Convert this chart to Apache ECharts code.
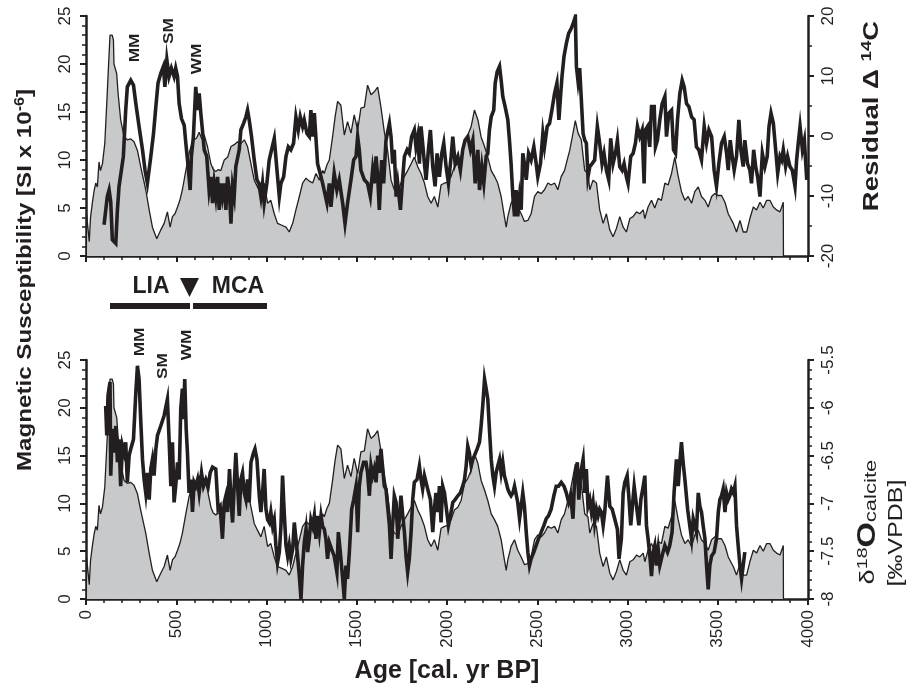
<!DOCTYPE html>
<html>
<head>
<meta charset="utf-8">
<script src="https://cdn.jsdelivr.net/npm/echarts@6.0.0/dist/echarts.min.js"></script>
<style>
	html, body { margin: 0; padding: 0; background: #fff; }
	#main { width: 907px; height: 693px; }
</style>
</head>
<body>
<div id="main"></div>
<script>
// magnetic susceptibility (grey area, same in both panels)
var msAge = [2, 3, 12, 18, 25, 35, 45, 54, 63, 72, 80, 91, 104, 115, 124, 133, 145, 152, 155, 165, 170, 178, 192, 211, 229, 248, 266, 285, 303, 331, 350, 368, 380, 392, 414, 433, 451, 466, 479, 493, 507, 520, 534, 553, 571, 585, 599, 613, 627, 641, 655, 673, 692, 705, 719, 733, 747, 766, 785, 803, 821, 840, 858, 877, 895, 914, 932, 950, 969, 987, 1006, 1024, 1043, 1061, 1085, 1108, 1126, 1145, 1163, 1182, 1200, 1219, 1237, 1256, 1274, 1293, 1311,
	1320, 1335, 1348, 1366, 1380, 1394, 1412, 1431, 1449, 1468, 1486, 1505, 1523, 1542, 1560, 1579, 1597, 1616, 1634, 1653, 1671, 1690, 1708, 1727, 1745, 1764, 1782, 1801, 1819, 1838, 1856, 1875, 1893, 1912, 1930, 1949, 1967, 1986, 2004, 2023, 2041, 2060, 2078, 2097, 2115, 2134, 2152, 2171, 2189, 2208, 2226, 2245, 2263, 2281, 2300, 2318, 2328, 2337, 2355, 2374, 2392, 2411, 2429, 2448, 2466, 2485, 2503, 2522, 2540, 2559, 2577, 2596, 2614, 2633, 2651, 2670,
	2680, 2695, 2711, 2726, 2744, 2763, 2781, 2791, 2809, 2828, 2846, 2865, 2883, 2902, 2920, 2939, 2957, 2976, 2994, 3013, 3031, 3050, 3068, 3087, 3096, 3114, 3133, 3151, 3170, 3188, 3207, 3225, 3244, 3262, 3281, 3299, 3318, 3336, 3355, 3373, 3392, 3410, 3429, 3447, 3466, 3484, 3503, 3521, 3540, 3558, 3586, 3604, 3623, 3641, 3660, 3678, 3697, 3715, 3734, 3752, 3771, 3789, 3808, 3826, 3845, 3863, 3864];
var msVal = [0, 4.4, 4.3, 1.5, 4, 5.5, 6.8, 7.6, 7.2, 9.8, 8.9, 9.6, 11.7, 15.9, 19.5, 23, 23, 22.5, 20, 20, 19, 16.9, 14.2, 12.4, 12.1, 12.2, 11.9, 11, 9.3, 6.9, 4.8, 3.0, 2.4, 1.8, 2.7, 3.4, 4.6, 3.0, 4.1, 4.4, 5.1, 5.8, 6.9, 8.9, 10.7, 11.6, 12.1, 12.3, 12.9, 12.2, 12.6, 11.4, 9.6, 9, 8.8, 9, 8.9, 10, 10.3, 11.4, 11.6, 11.9, 11.7, 12.1, 11.4, 9.6, 7.9, 7.2, 6.5, 7.6, 5.5, 5.8, 4.4, 3.4, 3.2, 3.0, 2.5, 3.4, 4.8, 6.2, 7.6, 8.1, 7.8, 7.6, 8.6, 7.9, 8.9,
	8.6, 9.5, 10, 12.4, 14.5, 16.1, 15.7, 12.6, 14, 12.8, 14.7, 13.1, 15.4, 15.5, 17.8, 16.8, 17.1, 17.6, 15.5, 12.9, 11, 7.9, 6.9, 6.7, 7.6, 8.3, 8.9, 9.6, 10.3, 9.3, 8.6, 7.6, 6.2, 5.5, 6.2, 5.1, 7.4, 7.6, 7.7, 8.3, 9.3, 9.6, 10.3, 12.1, 12.6, 13.5, 15.2, 14.2, 12.4, 11.4, 10.3, 8.9, 8.3, 7.6, 6.2, 4.1, 3.0, 4.1, 5.5, 6.2, 5.1, 4.4, 3.6, 3.7, 4.4, 6.2, 6.7, 6.5, 6.9, 7.6, 7.4, 7.6, 6.9, 8.3, 8.9, 10.3,
	11, 12.5, 14.1, 12.8, 12.1, 8.9, 8.6, 6.9, 7.9, 7.6, 4.8, 3.4, 4.4, 2.7, 2.0, 2.9, 4.1, 3.0, 2.5, 3.9, 4.1, 4.6, 4.4, 4.8, 3.9, 5.1, 5.8, 5.0, 6.0, 5.8, 7.6, 7.4, 8.6, 10.3, 8.3, 6.7, 5.8, 6.2, 5.5, 6.7, 7.2, 6.2, 5.8, 5.1, 6.2, 6.5, 6.3, 6.3, 5.6, 4.4, 3.4, 2.5, 3.7, 2.5, 2.5, 3.9, 5.1, 4.8, 5.6, 5.0, 5.8, 5.8, 5.1, 4.8, 4.6, 5.6, 0];

// residual delta 14C (top panel, right axis)
var c14Age = [100, 118, 128, 137, 146, 165, 174, 183, 196, 207, 220, 229, 248, 263, 276, 294, 313, 327, 340, 350, 359, 374, 387, 399, 414, 429, 437, 448, 460, 473, 488, 497, 507, 516, 529, 544, 553, 566, 577, 584, 595, 608, 618, 627, 636, 645, 655, 669, 682, 692, 701, 710, 719, 729, 738, 747, 756, 766, 775, 784, 794, 803, 812, 821, 830, 849, 858, 873, 886, 895, 904, 917, 932, 947, 958, 969, 978, 987, 1002, 1015, 1028, 1043, 1058, 1071, 1080, 1095, 1108, 1121, 1135, 1150, 1163, 1176, 1187, 1200, 1209, 1224, 1237, 1246, 1256, 1265, 1283, 1302, 1311,
	1320, 1335, 1348, 1357, 1375, 1390, 1403, 1422, 1435, 1449, 1468, 1483, 1496, 1505, 1514, 1523, 1542, 1560, 1575, 1588, 1597, 1607, 1616, 1625, 1638, 1649, 1662, 1681, 1690, 1699, 1708, 1718, 1727, 1742, 1755, 1764, 1779, 1791, 1804, 1819, 1828, 1838, 1847, 1856, 1865, 1875, 1884, 1897, 1908, 1921, 1934, 1945, 1958, 1971, 1982, 1995, 2008, 2023, 2032, 2045, 2060, 2074, 2087, 2100, 2115, 2130, 2143, 2156, 2171, 2180, 2193, 2204, 2217, 2226, 2235, 2245, 2259, 2267, 2278, 2291, 2300, 2309, 2322, 2337, 2346, 2355, 2365, 2374, 2383, 2392, 2402, 2411, 2420, 2429, 2439, 2452, 2466, 2481, 2494, 2503, 2518, 2531, 2540, 2555, 2568, 2581, 2596, 2609, 2620, 2629, 2637, 2648, 2661, 2674, 2688, 2703,
	2711, 2717, 2726, 2735, 2744, 2754, 2763, 2772, 2781, 2791, 2804, 2818, 2833, 2846, 2859, 2870, 2883, 2896, 2907, 2920, 2933, 2944, 2957, 2970, 2981, 2994, 3003, 3018, 3031, 3044, 3055, 3068, 3081, 3092, 3099, 3111, 3123, 3133, 3148, 3155, 3166, 3179, 3192, 3207, 3216, 3229, 3244, 3255, 3266, 3277, 3290, 3303, 3314, 3327, 3340, 3355, 3369, 3382, 3395, 3410, 3425, 3438, 3451, 3466, 3480, 3493, 3506, 3521, 3536, 3549, 3558, 3569, 3580, 3591, 3604, 3617, 3628, 3641, 3650, 3665, 3678, 3687, 3699, 3710, 3721, 3734, 3747, 3761, 3774, 3784, 3795, 3808, 3821, 3832, 3845, 3854, 3863, 3876, 3887, 3900, 3913, 3928, 3937, 3946, 3956, 3969, 3980, 3993];
var c14Val = [-14.8, -10.1, -9, -11, -17.3, -17.9, -12.3, -8.4, -5.7, -3.4, 4.3, 8.2, 9.3, 8.5, 5.4, 1.6, -2.3, -5.7, -7.9, -7.9, -3.4, 0.4, 4.9, 8.8, 10.4, 11.6, 8.2, 12.7, 9.9, 11.3, 9.9, 11.3, 9.9, 5.4, 2.9, 1.8, -1.2, -5.1, -9, -3.4, -0.1, 8.2, 4.3, 7.1, 3.8, 1, -2.3, -3.4, -9, -6.8, -11.2, -7.9, -10.1, -6.8, -12.3, -7.9, -10.1, -7.9, -12.3, -6.8, -9, -14.6, -8.4, -10.1, -5.1, -2.3, 1, 2.1, 3.2, 4.3, 2.7, -0.1, -4, -7.3, -7.9, -10.1, -7.9, -11.2, -7.9, -4, -2.3, -0.4, -5.7, -10.1, -7.9, -6.8, -3.4, -1.8, -2.3, -1.2, 3.2, 1, 3.2, 1.6, 2.7, 0.4, -0.1, 4.3, -0.1, 3.8, -4.6, -6.8, -7.9,
	-7.9, -11.2, -7.9, -11.8, -6.2, -9, -7.3, -11.2, -14.6, -11.2, -7.3, -4, -3.4, -0.1, -2.3, -5.7, -7.3, -7.9, -10.1, -5.7, -7.9, -3.4, -6.8, -12.3, -4, -7.9, -0.7, 2.1, -0.1, -4.6, -2.3, -10.1, -7.9, -12.3, -6.8, -3.4, -2.3, -2.9, -0.1, 1, -1.8, -0.1, -4.6, 1.6, -1.2, -4.6, -7.3, -2.3, 1, -5.1, -8.4, -2.9, -6.8, -2.9, -1.2, -5.1, -7.9, -3.4, -0.1, -4.6, -3.4, -5.7, -2.3, -0.7, -0.1, -2.3, -0.7, -7.9, -2.3, -9, -5.1, -7.9, -3.4, -2.9, 1, 3.2, 4.3, 8.8, 10.7, 11.6, 9.3, 6.6, 4.9, 2.7, -0.7, -4.6, -10.1, -13.4, -9, -13.4, -10.1, -12.3, -2.9, -4.6, -7.3, -2.9, -4, -1.8, -4.6, -6.8, -4.6, 0.4, -1.8, 1.6, 2.1, 4.3, 7.1, 8.8, 2.7, 6.6, 9.9, 13.2, 15.4, 17.1, 17.9, 19.1,
	19.9, 11.6, 9.1, 11.3, 11, 0.4, -0.7, -1.2, -6.8, -5.1, -4.6, -4, 1.6, -1.2, -4.6, -2.9, -5.7, -7.3, -0.4, -4.6, -2.9, -0.7, -5.1, -5.7, -4.6, -6.8, -7.9, -3.4, -2.9, -1.2, 1.6, -0.1, 1, -7.9, 1, 1.6, -1.8, 4.9, 4.9, -1.8, -0.7, 2.7, 5.4, 6.6, -0.1, 3.8, 4.3, -2.3, -2.9, 2.7, 7.1, 9.3, 8.2, 5.4, 4.9, 3.2, 2.7, -1.8, -2.3, -4, 1.6, -1.2, 1, -0.1, -5.7, -8.4, -4.6, -1.2, -0.1, -2.9, -5.7, -0.7, -3.4, -5.7, -3.4, 2.7, -2.3, -5.1, -0.7, -4.6, -5.7, -7.9, -2.3, -5.1, -6.8, -10.1, -2.9, -5.1, -3.4, 1.6, 3.8, 2.1, -2.3, -6.2, -3.4, -4, -2.3, -5.1, -3.4, -5.1, -5.7, -8.4, -4, -1.2, 1.6, -2.3, -0.7, -7.3];

// delta 18O calcite (bottom panel, right axis)
var o18Age = [109, 115, 122, 133, 137, 146, 155, 165, 174, 183, 192, 202, 211, 220, 229, 239, 248, 263, 276, 285, 294, 303, 313, 322, 331, 340, 350, 359, 368, 377, 387, 396, 414, 433, 451, 461, 470, 479, 488, 497, 507, 516, 525, 534, 540, 547, 555, 562, 571, 581, 590, 599, 608, 618, 627, 640, 651, 664, 677, 688, 701, 719, 732, 743, 756, 766, 775, 784, 795, 803, 812, 821, 830, 840, 849, 858, 867, 877, 886, 895, 904, 914, 928, 936, 947, 960, 969, 978, 987, 997, 1006, 1015, 1024, 1034, 1043, 1052, 1061, 1071, 1080, 1089, 1098, 1108, 1117, 1126, 1135, 1145, 1154, 1163, 1172, 1182, 1191, 1200, 1209, 1219, 1228, 1237, 1246, 1256, 1265, 1274, 1283, 1293, 1302, 1311,
	1320, 1329, 1338, 1348, 1361, 1375, 1390, 1398, 1409, 1422, 1431, 1440, 1449, 1459, 1472, 1483, 1496, 1505, 1514, 1523, 1538, 1551, 1560, 1570, 1579, 1588, 1597, 1607, 1616, 1625, 1634, 1644, 1653, 1662, 1671, 1681, 1690, 1699, 1708, 1718, 1727, 1736, 1745, 1755, 1764, 1773, 1782, 1791, 1801, 1810, 1819, 1834, 1847, 1856, 1865, 1875, 1884, 1893, 1908, 1921, 1930, 1939, 1949, 1958, 1967, 1976, 1986, 1995, 2008, 2019, 2032, 2045, 2060, 2074, 2087, 2097, 2106, 2115, 2124, 2134, 2143, 2152, 2167, 2180, 2189, 2198, 2208, 2217, 2226, 2235, 2245, 2254, 2263, 2272, 2281, 2291, 2300, 2309, 2318, 2328, 2337, 2346, 2355, 2365, 2374, 2383, 2392, 2402, 2411, 2420, 2429, 2439, 2448, 2457, 2466, 2481, 2494, 2507, 2522, 2537, 2550, 2562, 2577, 2592, 2605, 2618, 2633, 2648, 2661, 2674, 2685, 2698,
	2707, 2722, 2730, 2741, 2754, 2763, 2772, 2781, 2791, 2800, 2809, 2818, 2828, 2837, 2846, 2855, 2865, 2874, 2889, 2902, 2915, 2929, 2944, 2953, 2966, 2976, 2985, 2998, 3007, 3018, 3027, 3037, 3050, 3063, 3074, 3087, 3096, 3105, 3114, 3124, 3133, 3142, 3151, 3160, 3170, 3179, 3188, 3197, 3207, 3222, 3234, 3247, 3258, 3271, 3281, 3290, 3299, 3308, 3318, 3333, 3345, 3355, 3364, 3373, 3382, 3392, 3401, 3410, 3419, 3429, 3438, 3447, 3456, 3466, 3480, 3493, 3503, 3512, 3521, 3530, 3540, 3549, 3558, 3567, 3576, 3586, 3595, 3604, 3613, 3623, 3632, 3641, 3650];
var o18Val = [-5.98, -6.29, -5.87, -5.73, -6.71, -6.22, -6.47, -6.19, -6.57, -6.33, -6.82, -6.4, -6.47, -6.36, -6.78, -6.5, -6.43, -6.33, -5.84, -5.56, -5.7, -6.12, -6.54, -6.75, -6.89, -6.68, -6.96, -6.64, -6.54, -6.71, -6.43, -6.29, -6.19, -6.08, -5.91, -6.36, -6.82, -6.36, -6.99, -6.82, -6.57, -6.75, -6.01, -5.8, -6.12, -5.7, -6.22, -6.47, -6.89, -6.75, -7.09, -6.78, -6.82, -6.75, -6.89, -6.68, -6.82, -6.75, -6.82, -6.68, -6.62, -6.64, -7.06, -7.03, -7.37, -6.99, -6.92, -7.09, -6.64, -6.96, -7.2, -6.82, -6.47, -6.82, -7.13, -6.75, -6.68, -6.89, -6.96, -6.75, -6.99, -6.57, -6.47, -6.43, -6.54, -6.92, -7.09, -6.89, -6.64, -7.06, -7.17, -7.2, -7.09, -7.24, -7.17, -7.44, -7.62, -7.51, -7.24, -6.71, -7.09, -7.44, -7.55, -7.44, -7.58, -7.48, -7.2, -7.37, -7.55, -7.76, -8.0, -7.65, -7.41, -7.27, -7.51, -7.37, -7.17, -7.24, -7.13, -7.37, -7.13, -7.3, -7.13, -7.24,
	-7.27, -7.37, -7.58, -7.41, -7.48, -7.55, -7.72, -7.3, -7.51, -7.79, -8.0, -7.65, -7.79, -7.51, -7.06, -6.96, -6.82, -7.3, -6.82, -6.68, -6.57, -6.57, -6.68, -6.92, -6.61, -6.71, -6.64, -6.78, -6.5, -6.68, -6.43, -6.43, -6.82, -6.85, -6.85, -7.23, -7.58, -7.23, -6.92, -6.99, -7.37, -7.16, -6.92, -7.13, -7.3, -7.55, -7.72, -7.58, -7.3, -6.96, -6.78, -6.75, -6.61, -6.75, -6.85, -6.71, -6.78, -6.85, -6.96, -7.3, -7.06, -6.89, -7.09, -6.82, -7.2, -6.82, -6.89, -7.03, -7.23, -7.13, -6.99, -6.96, -6.92, -6.89, -6.82, -6.75, -6.61, -6.4, -6.47, -6.61, -6.54, -6.5, -6.43, -6.36, -6.19, -5.98, -5.7, -5.8, -5.91, -6.22, -6.54, -6.71, -6.82, -6.68, -6.61, -6.54, -6.68, -6.57, -6.71, -6.78, -6.85, -6.89, -6.92, -6.89, -6.82, -6.82, -6.99, -7.16, -7.03, -6.89, -7.03, -7.3, -7.51, -7.65, -7.58, -7.51, -7.44, -7.37, -7.3, -7.23, -7.16, -7.13, -7.06, -6.92, -6.82, -6.82, -6.78, -6.82, -6.89, -6.99, -6.92, -7.16,
	-6.75, -6.57, -6.96, -6.68, -6.54, -6.89, -6.64, -7.03, -6.96, -7.09, -6.99, -7.2, -7.06, -7.13, -7.06, -7.09, -7.23, -7.09, -6.71, -7.03, -7.06, -7.16, -7.27, -7.58, -7.37, -6.89, -6.78, -6.71, -6.92, -7.23, -7.03, -6.82, -7.03, -7.23, -6.96, -6.82, -6.71, -7.23, -7.37, -7.55, -7.76, -7.51, -7.44, -7.65, -7.48, -7.65, -7.58, -7.51, -7.44, -7.51, -7.44, -7.3, -6.89, -6.54, -6.82, -6.57, -6.36, -6.57, -6.75, -7.06, -7.23, -7.37, -7.16, -7.23, -7.3, -6.89, -7.03, -7.09, -7.23, -7.37, -7.65, -7.9, -7.65, -7.55, -7.51, -7.37, -7.09, -6.96, -6.92, -6.85, -7.09, -6.89, -6.96, -6.92, -6.85, -6.89, -6.82, -7.23, -7.44, -7.65, -7.79, -7.79, -7.51];

// tick labels of the age axis
var ageTicks = [0, 500, 1000, 1500, 2000, 2500, 3000, 3500, 4000];

function pairs(xs, ys) {
	var out = [];
	for (var i = 0; i < xs.length; i++) {
		out.push([xs[i], ys[i]]);
	}
	return out;
}

var font = "'Liberation Sans', Arial, sans-serif";
var black = '#231f20';

function ageAxis(gridIndex, showLabel) {
	return {
		type: 'value',
		gridIndex: gridIndex,
		min: ageTicks[0],
		max: ageTicks[ageTicks.length - 1],
		interval: ageTicks[1] - ageTicks[0],
		axisLine: { lineStyle: { color: black, width: 2.5 } },
		axisTick: { length: 6, lineStyle: { color: black, width: 2 } },
		minorTick: { show: true, splitNumber: 5, length: 4, lineStyle: { color: black, width: 1.5 } },
		splitLine: { show: false },
		axisLabel: {
			show: showLabel,
			rotate: 90,
			margin: 11,
			color: black,
			fontFamily: font,
			fontSize: 17,
			formatter: function(v) { return String(v); }
		}
	};
}

function valAxis(gridIndex, pos, min, max, interval, minorSplit) {
	return {
		type: 'value',
		gridIndex: gridIndex,
		position: pos,
		min: min,
		max: max,
		interval: interval,
		axisLine: { show: true, lineStyle: { color: black, width: 2.5 } },
		axisTick: { show: true, length: 6, lineStyle: { color: black, width: 2 } },
		minorTick: { show: true, splitNumber: minorSplit, length: 4, lineStyle: { color: black, width: 1.5 } },
		splitLine: { show: false },
		axisLabel: {
			rotate: 90,
			margin: 12,
			color: black,
			fontFamily: font,
			fontSize: 17,
			formatter: function(v) { return String(v); }
		}
	};
}

var areaSeries = function(xi, yi) {
	return {
		type: 'line',
		xAxisIndex: xi,
		yAxisIndex: yi,
		data: pairs(msAge, msVal),
		symbol: 'none',
		lineStyle: { color: black, width: 1.3 },
		areaStyle: { color: '#c8c9cb', opacity: 1 },
		z: 2
	};
};

var lineSeries = function(xi, yi, xs, ys) {
	return {
		type: 'line',
		xAxisIndex: xi,
		yAxisIndex: yi,
		data: pairs(xs, ys),
		symbol: 'none',
		lineStyle: { color: black, width: 3.6, join: 'miter' },
		z: 3
	};
};

// rotated text, stretched along its reading direction
function vText(x, y, txt, fontStr, stretch, rich) {
	var st = {
		text: txt,
		fill: black,
		font: fontStr,
		textAlign: 'center',
		textVerticalAlign: 'middle'
	};
	if (rich) st.rich = rich;
	return { type: 'text', x: x, y: y, rotation: Math.PI / 2, scaleX: stretch, style: st, z: 10 };
}

var myChart = echarts.init(document.getElementById('main'), null, { renderer: 'canvas' });
var option = {
	animation: false,
	backgroundColor: '#fff',
	grid: [
		{ left: 86, right: 99, top: 16, height: 240 },
		{ left: 86, right: 99, top: 360, height: 239 }
	],
	xAxis: [ageAxis(0, false), ageAxis(1, true)],
	yAxis: [
		valAxis(0, 'left', 0, 25, 5, 5),
		valAxis(0, 'right', -20, 20, 10, 2),
		valAxis(1, 'left', 0, 25, 5, 5),
		valAxis(1, 'right', -8, -5.5, 0.5, 5)
	],
	series: [
		areaSeries(0, 0),
		lineSeries(0, 1, c14Age, c14Val),
		areaSeries(1, 2),
		lineSeries(1, 3, o18Age, o18Val)
	],
	graphic: [
		// axis titles
		vText(25, 280, 'Magnetic Susceptibility [SI x 10{sup|-6}]', 'bold 21px ' + font, 1.15, {
			sup: { font: 'bold 14px ' + font, padding: [0, 0, 10, 0] }
		}),
		vText(872, 116, 'Residual \u0394 {sup|14}C', 'bold 22px ' + font, 1.25, {
			sup: { font: 'bold 15px ' + font, padding: [0, 0, 10, 0] }
		}),
		vText(868, 522, '{n|\u03b4}{sup|18}O{sub|calcite}', 'bold 25px ' + font, 1.3, {
			n: { font: '21px ' + font },
			sup: { font: '15px ' + font, padding: [0, 0, 10, 0] },
			sub: { font: '17px ' + font, padding: [7, 0, 0, 0] }
		}),
		vText(896, 533, '[\u2030VPDB]', '20px ' + font, 1.25),
		{ type: 'text', x: 447, y: 671, z: 10,
			style: { text: 'Age [cal. yr BP]', fill: black, font: 'bold 25px ' + font, textAlign: 'center', textVerticalAlign: 'middle' } },
		// period labels
		vText(135, 48, 'MM', 'bold 15px ' + font, 1.15),
		vText(169, 31, 'SM', 'bold 15px ' + font, 1.15),
		vText(197, 59, 'WM', 'bold 15px ' + font, 1.15),
		vText(140, 342, 'MM', 'bold 15px ' + font, 1.15),
		vText(163, 366, 'SM', 'bold 15px ' + font, 1.15),
		vText(187, 345, 'WM', 'bold 15px ' + font, 1.15),
		{ type: 'text', x: 151, y: 287, z: 10,
			style: { text: 'LIA', fill: black, font: 'bold 23px ' + font, textAlign: 'center', textVerticalAlign: 'middle' } },
		{ type: 'text', x: 238, y: 287, z: 10,
			style: { text: 'MCA', fill: black, font: 'bold 23px ' + font, textAlign: 'center', textVerticalAlign: 'middle' } },
		{ type: 'polygon', z: 10, shape: { points: [[180, 278], [199, 278], [189.5, 297]] }, style: { fill: black } },
		{ type: 'rect', z: 10, shape: { x: 110, y: 303, width: 80, height: 6 }, style: { fill: black } },
		{ type: 'rect', z: 10, shape: { x: 193, y: 303, width: 74, height: 6 }, style: { fill: black } }
	]
};
myChart.setOption(option);
</script>
</body>
</html>
